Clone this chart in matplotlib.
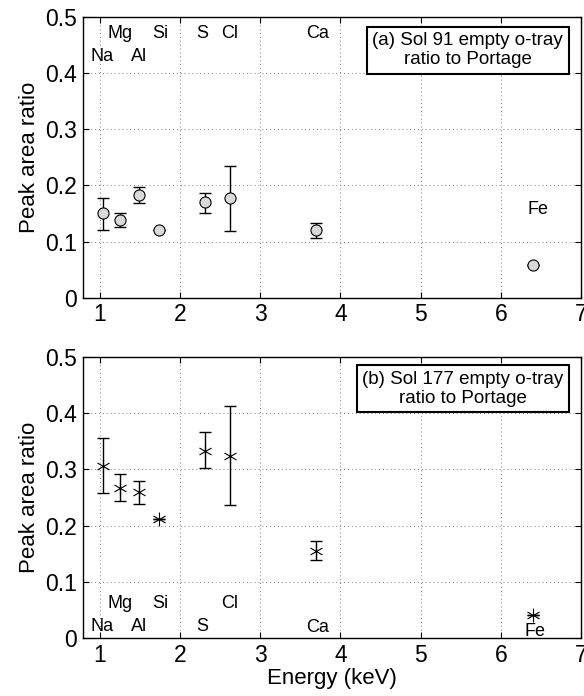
import numpy as np
import matplotlib
matplotlib.use("Agg")
import matplotlib.pyplot as plt
from matplotlib.path import Path

plt.rcParams['font.family'] = ['Liberation Sans', 'DejaVu Sans']

# element lines (keV)
elements = ['Na', 'Mg', 'Al', 'Si', 'S', 'Cl', 'Ca', 'Fe']
energy = [1.04, 1.25, 1.49, 1.74, 2.31, 2.62, 3.69, 6.40]

# (a) Sol 91
ratio_a = [0.151, 0.139, 0.183, 0.121, 0.170, 0.177, 0.121, 0.059]
lo_a = [0.121, 0.126, 0.168, np.nan, 0.151, 0.119, 0.107, np.nan]
hi_a = [0.178, 0.151, 0.197, np.nan, 0.186, 0.235, 0.133, np.nan]

# (b) Sol 177
ratio_b = [0.306, 0.266, 0.259, 0.211, 0.333, 0.324, 0.155, 0.041]
lo_b = [0.257, 0.243, 0.238, np.nan, 0.302, 0.236, 0.139, np.nan]
hi_b = [0.356, 0.291, 0.280, np.nan, 0.366, 0.412, 0.173, np.nan]

# element label positions (x, y) per panel
lab_a_x = [1.03, 1.25, 1.49, 1.75, 2.28, 2.62, 3.71, 6.46]
lab_a_y = [0.429, 0.470, 0.429, 0.470, 0.470, 0.470, 0.470, 0.158]
lab_b_x = [1.03, 1.25, 1.49, 1.75, 2.28, 2.62, 3.71, 6.43]
lab_b_y = [0.020, 0.062, 0.020, 0.062, 0.020, 0.062, 0.018, 0.011]

titles = ['(a) Sol 91 empty o-tray\nratio to Portage',
          '(b) Sol 177 empty o-tray\nratio to Portage']

# matlab-like asterisk: vertical stroke plus two strokes at +-30 deg
c, s = np.cos(np.pi / 6), np.sin(np.pi / 6)
star = Path([(0, -1), (0, 1), (-c, -s), (c, s), (-c, s), (c, -s)],
            [Path.MOVETO, Path.LINETO] * 3)

fig = plt.figure(figsize=(5.84, 6.96), dpi=100)
ax1 = fig.add_axes([0.142, 0.572, 0.853, 0.404])
ax2 = fig.add_axes([0.142, 0.0833, 0.853, 0.404])


def style(ax):
    ax.set_xlim(0.79, 7.0)
    ax.set_ylim(0, 0.5)
    ax.set_xticks(range(1, 8))
    ax.set_yticks([0, 0.1, 0.2, 0.3, 0.4, 0.5])
    ax.set_yticklabels(['0', '0.1', '0.2', '0.3', '0.4', '0.5'])
    ax.tick_params(direction='in', top=True, right=True, labelsize=16.5,
                   length=4, width=0.8, pad=4)
    ax.grid(True, linestyle=(0, (1, 3)), color='0.5', linewidth=0.7)
    ax.set_axisbelow(True)
    for sp in ax.spines.values():
        sp.set_linewidth(1.0)
    ax.set_ylabel('Peak area ratio', fontsize=16, labelpad=4)


def errs(r, lo, hi):
    r = np.array(r)
    low = r - np.array(lo)
    up = np.array(hi) - r
    return np.nan_to_num(np.vstack([low, up]))


# top panel
style(ax1)
e = errs(ratio_a, lo_a, hi_a)
ax1.errorbar(energy, ratio_a, yerr=e, fmt='none', ecolor='k', elinewidth=1.0,
             capsize=4.5, capthick=1.0)
ax1.plot(energy, ratio_a, 'o', ms=8, mfc='0.85', mec='k', mew=0.8)
for name, x, y in zip(elements, lab_a_x, lab_a_y):
    ax1.text(x, y, name, ha='center', va='center', fontsize=13)
ax1.text(0.772, 0.945, titles[0], transform=ax1.transAxes, ha='center',
         va='top', fontsize=13.5, linespacing=1.15,
         bbox=dict(boxstyle='square,pad=0.3', fc='white', ec='k', lw=1.5))

# bottom panel
style(ax2)
e = errs(ratio_b, lo_b, hi_b)
ax2.errorbar(energy, ratio_b, yerr=e, fmt='none', ecolor='k', elinewidth=1.0,
             capsize=4.5, capthick=1.0)
ax2.plot(energy, ratio_b, linestyle='none', marker=star, ms=10,
         mec='k', mew=0.8)
for name, x, y in zip(elements, lab_b_x, lab_b_y):
    ax2.text(x, y, name, ha='center', va='center', fontsize=13)
ax2.text(0.763, 0.950, titles[1], transform=ax2.transAxes, ha='center',
         va='top', fontsize=13.5, linespacing=1.15,
         bbox=dict(boxstyle='square,pad=0.3', fc='white', ec='k', lw=1.5))
ax2.set_xlabel('Energy (keV)', fontsize=16, labelpad=1)

fig.savefig('out.png', dpi=100)
